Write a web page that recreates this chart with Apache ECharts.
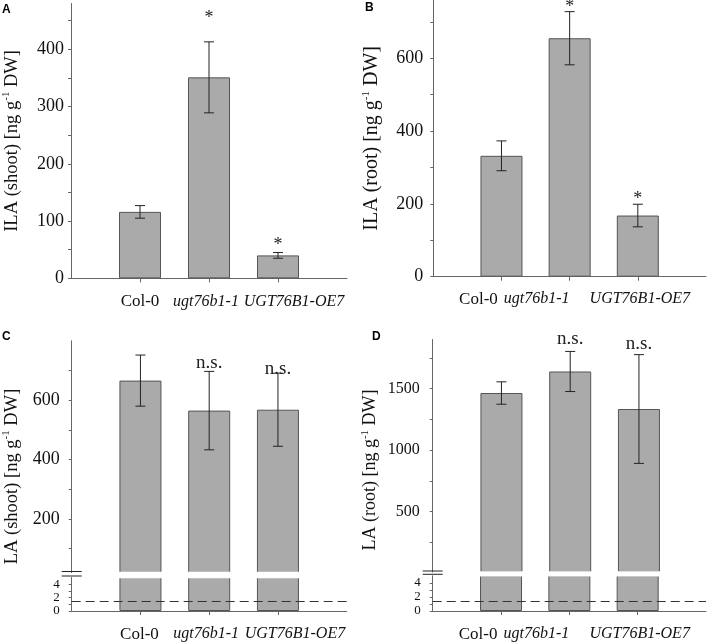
<!DOCTYPE html>
<html>
<head>
<meta charset="utf-8">
<script src="https://cdn.jsdelivr.net/npm/echarts@6/dist/echarts.min.js"></script>
<style>
  html, body { margin: 0; padding: 0; background: #fff; }
  #chart { width: 709px; height: 643px; }
</style>
</head>
<body>
<div id="chart"></div>
<script>
// genotypes (x axis)
const categories = ['Col-0', 'ugt76b1-1', 'UGT76B1-OE7'];

// A: ILA shoot
const ilaShootMean = [116, 351, 40];
const ilaShootErr = [11, 62, 5];
const ilaShootSig = ['', '*', '*'];
const ilaShootSigAt = [null, 462, 65];
const ilaShootTicks = [0, 50, 100, 150, 200, 250, 300, 350, 400, 450];
const ilaShootLabels = [0, 100, 200, 300, 400];

// B: ILA root
const ilaRootMean = [332, 655, 168];
const ilaRootErr = [41, 73, 31];
const ilaRootSig = ['', '*', '*'];
const ilaRootSigAt = [null, 750, 223];
const ilaRootTicks = [0, 100, 200, 300, 400, 500, 600, 700];
const ilaRootLabels = [0, 200, 400, 600];

// C: LA shoot
const laShootMean = [666, 565, 568];
const laShootErr = [86, 132, 123];
const laShootSig = ['', 'n.s.', 'n.s.'];
const laShootSigAt = [null, 726, 704];
const laShootTicks = [100, 200, 300, 400, 500, 600, 700];
const laShootLabels = [200, 400, 600];

// D: LA root
const laRootMean = [1465, 1640, 1335];
const laRootErr = [91, 163, 442];
const laRootSig = ['', 'n.s.', 'n.s.'];
const laRootSigAt = [null, 1906, 1865];
const laRootTicks = [250, 500, 750, 1000, 1250, 1500, 1750];
const laRootLabels = [500, 1000, 1500];

// lower segment of the broken axes (C, D)
const lowTicks = [0, 1, 2, 3, 4];
const lowLabels = [0, 2, 4];
const detectionLimit = 1.4;

const FONT = 'Liberation Serif';
const INK = '#111';
const AXIS = '#666';
const BAR = '#aaaaaa';
const EDGE = '#555';

// one empty slot on each side so the bars sit at 1/4, 2/4, 3/4 of the axis
const slots = [''].concat(categories, ['']);
const slotData = (arr) => ['-'].concat(arr, ['-']);

const option = {
  animation: false,
  backgroundColor: '#fff',
  title: [],
  grid: [],
  xAxis: [],
  yAxis: [],
  series: [],
  graphic: []
};

function addGrid(left, top, width, height) {
  option.grid.push({ left: left, top: top, width: width, height: height, containLabel: false });
  return option.grid.length - 1;
}

// shift: horizontal offset of each label from its bar centre (px)
function addCatAxis(gi, show, margin, shift) {
  const rich = {};
  const names = {};
  categories.forEach((c, i) => {
    const d = shift ? shift[i] : 0;
    const key = 'c' + i;
    names[c] = key;
    rich[key] = {
      fontFamily: FONT, fontSize: i === 0 ? 17 : 16, color: INK,
      fontStyle: i === 0 ? 'normal' : 'italic',
      padding: d >= 0 ? [0, 0, 0, 2 * d] : [0, -2 * d, 0, 0]
    };
  });
  option.xAxis.push({
    type: 'category',
    gridIndex: gi,
    data: slots,
    boundaryGap: false,
    show: show,
    axisLine: { lineStyle: { color: AXIS, width: 1 } },
    axisTick: { length: 4, interval: (i) => i > 0 && i < 4, lineStyle: { color: AXIS } },
    axisLabel: {
      interval: 0,
      margin: margin,
      color: INK,
      fontFamily: FONT,
      fontSize: 17,
      formatter: (v) => v === '' ? '' : '{' + names[v] + '|' + v + '}',
      rich: rich
    },
    splitLine: { show: false }
  });
  return option.xAxis.length - 1;
}

function addValAxis(gi, o) {
  option.yAxis.push({
    type: 'value',
    gridIndex: gi,
    min: o.min,
    max: o.max,
    axisLine: { show: true, lineStyle: { color: AXIS, width: 1 } },
    axisTick: { show: true, length: 3, customValues: o.ticks, lineStyle: { color: AXIS } },
    axisLabel: {
      customValues: o.labels, margin: o.margin, color: INK, fontFamily: FONT, fontSize: o.fontSize,
      formatter: (v) => String(v)
    },
    splitLine: { show: false }
  });
  return option.yAxis.length - 1;
}

function nameStyle(size) {
  return {
    fontFamily: FONT, fontSize: size, color: INK, lineHeight: 22,
    rich: { sup: { fontFamily: FONT, fontSize: 11, lineHeight: 12, verticalAlign: 'top', color: INK } }
  };
}

// name only axis, spanning the whole (broken) axis height
function addNameAxis(gi, o) {
  option.xAxis.push({ type: 'value', gridIndex: gi, show: false });
  option.yAxis.push({
    type: 'value', gridIndex: gi, min: 0, max: 1,
    axisLine: { show: false }, axisTick: { show: false }, axisLabel: { show: false }, splitLine: { show: false },
    name: o.name, nameLocation: 'middle', nameGap: o.nameGap, nameRotate: 90,
    nameTextStyle: nameStyle(o.nameSize)
  });
}

function errRender(sig, sigAt, sigSize) {
  return function (params, api) {
    const i = params.dataIndex;
    const x = api.value(0), m = api.value(1), e = api.value(2);
    const hi = api.coord([x, m + e]);
    const lo = api.coord([x, m - e]);
    const cap = 5;
    const st = { stroke: '#222', lineWidth: 1 };
    const children = [
      { type: 'line', shape: { x1: hi[0], y1: hi[1], x2: lo[0], y2: lo[1] }, style: st },
      { type: 'line', shape: { x1: hi[0] - cap, y1: hi[1], x2: hi[0] + cap, y2: hi[1] }, style: st },
      { type: 'line', shape: { x1: lo[0] - cap, y1: lo[1], x2: lo[0] + cap, y2: lo[1] }, style: st }
    ];
    if (sig[i]) {
      const p = api.coord([x, sigAt[i]]);
      const star = sig[i] === '*';
      children.push({
        type: 'text', x: p[0], y: p[1] + (star ? 4 : 0),
        style: { text: sig[i], fill: '#222', fontFamily: FONT, fontSize: sigSize, align: 'center', verticalAlign: 'middle' }
      });
    }
    return { type: 'group', children: children };
  };
}

function addBars(xi, yi, mean, extra) {
  const s = {
    type: 'bar', xAxisIndex: xi, yAxisIndex: yi, data: slotData(mean), barWidth: 42,
    itemStyle: { color: BAR, borderColor: EDGE, borderWidth: 1 }, clip: true, silent: true
  };
  option.series.push(Object.assign(s, extra || {}));
}

function addErrors(xi, yi, mean, err, sig, sigAt, sigSize) {
  option.series.push({
    type: 'custom', xAxisIndex: xi, yAxisIndex: yi, z: 5, clip: false, silent: true,
    encode: { x: 0, y: 1 },
    data: mean.map((m, i) => [i + 1, m, err[i]]),
    renderItem: errRender(sig, sigAt, sigSize)
  });
}

function letter(text, left, top) {
  option.title.push({
    text: text, left: left, top: top, padding: 0,
    textStyle: { fontFamily: 'Liberation Sans', fontWeight: 'bold', fontSize: 12, color: '#000' }
  });
}

// simple panel (A, B)
function simplePanel(p) {
  const gi = addGrid(p.left, p.top, p.width, p.height);
  const xi = addCatAxis(gi, true, p.catMargin, p.catShift);
  const yi = addValAxis(gi, { min: 0, max: p.max, ticks: p.ticks, labels: p.labels, margin: p.labelMargin, fontSize: p.labelSize });
  Object.assign(option.yAxis[yi], {
    name: p.name, nameLocation: 'middle', nameGap: p.nameGap, nameRotate: 90, nameTextStyle: nameStyle(p.nameSize)
  });
  addBars(xi, yi, p.mean);
  addErrors(xi, yi, p.mean, p.err, p.sig, p.sigAt, 18);
}

// broken axis panel (C, D)
function brokenPanel(p) {
  const up = addGrid(p.left, p.upTop, p.width, p.upBottom - p.upTop);
  const upX = addCatAxis(up, false, 0);
  const upY = addValAxis(up, { min: p.min, max: p.max, ticks: p.ticks, labels: p.labels, margin: p.labelMargin, fontSize: p.labelSize });
  addBars(upX, upY, p.mean);
  addErrors(upX, upY, p.mean, p.err, p.sig, p.sigAt, 19);

  const lo = addGrid(p.left, p.lowTop, p.width, p.lowBottom - p.lowTop);
  const loX = addCatAxis(lo, true, p.catMargin, p.catShift);
  const loY = addValAxis(lo, { min: 0, max: 5, ticks: lowTicks, labels: lowLabels, margin: p.lowMargin, fontSize: 13 });
  addBars(loX, loY, p.mean, {
    markLine: {
      silent: true, symbol: 'none', label: { show: false },
      lineStyle: { color: '#333', type: [9, 5], width: 1 },
      data: [{ yAxis: detectionLimit }]
    }
  });

  const ng = addGrid(p.left, p.nameTop, p.width, p.nameBottom - p.nameTop);
  addNameAxis(ng, { name: p.name, nameGap: p.nameGap, nameSize: p.nameSize });

  // white gap through the bars where the axis is broken
  option.graphic.push({
    type: 'rect', silent: true, z: 9,
    shape: { x: p.left + 1, y: p.upBottom - 0.7, width: p.width, height: p.lowTop - p.upBottom + 1.4 },
    style: { fill: '#fff' }
  });
  // axis break marks
  [p.upBottom - 1, p.lowTop - 1.5].forEach((y) => {
    option.graphic.push({
      type: 'line', silent: true, z: 10,
      shape: { x1: p.left - 10, y1: y, x2: p.left + 10, y2: y },
      style: { stroke: '#222', lineWidth: 1 }
    });
  });
}

simplePanel({
  left: 70, top: 3.5, width: 277, height: 274.8, max: 480,
  ticks: ilaShootTicks, labels: ilaShootLabels, labelMargin: 7, labelSize: 18,
  catMargin: 15, catShift: [0, -3, 16],
  name: 'ILA (shoot) [ng g{sup|-1} DW]', nameGap: 48, nameSize: 18.5,
  mean: ilaShootMean, err: ilaShootErr, sig: ilaShootSig, sigAt: ilaShootSigAt
});

simplePanel({
  left: 433.3, top: 0, width: 275, height: 276.7, max: 760,
  ticks: ilaRootTicks, labels: ilaRootLabels, labelMargin: 10, labelSize: 18,
  catMargin: 14, catShift: [-23, -33, 2],
  name: 'ILA (root) [ng g{sup|-1} DW]', nameGap: 51, nameSize: 20,
  mean: ilaRootMean, err: ilaRootErr, sig: ilaRootSig, sigAt: ilaRootSigAt
});

brokenPanel({
  left: 71.7, width: 275, upTop: 340.8, upBottom: 572.5, min: 20, max: 800,
  lowTop: 577.5, lowBottom: 615, nameTop: 340, nameBottom: 613,
  ticks: laShootTicks, labels: laShootLabels, labelMargin: 12, labelSize: 18, lowMargin: 12,
  catMargin: 15, catShift: [-1, -3, 17],
  name: 'LA (shoot) [ng g{sup|-1} DW]', nameGap: 50, nameSize: 18.5,
  mean: laShootMean, err: laShootErr, sig: laShootSig, sigAt: laShootSigAt
});

brokenPanel({
  left: 432.7, width: 275, upTop: 339.5, upBottom: 572, min: 10, max: 1900,
  lowTop: 575.8, lowBottom: 613.3, nameTop: 333, nameBottom: 607,
  ticks: laRootTicks, labels: laRootLabels, labelMargin: 13, labelSize: 16, lowMargin: 12,
  catMargin: 15, catShift: [-23, -33, 2],
  name: 'LA (root) [ng g{sup|-1} DW]', nameGap: 51, nameSize: 18,
  mean: laRootMean, err: laRootErr, sig: laRootSig, sigAt: laRootSigAt
});

letter('A', 2, 4);
letter('B', 365, 2);
letter('C', 2, 331);
letter('D', 372, 331);

const chart = echarts.init(document.getElementById('chart'), null, { renderer: 'canvas' });
chart.setOption(option);
</script>
</body>
</html>
